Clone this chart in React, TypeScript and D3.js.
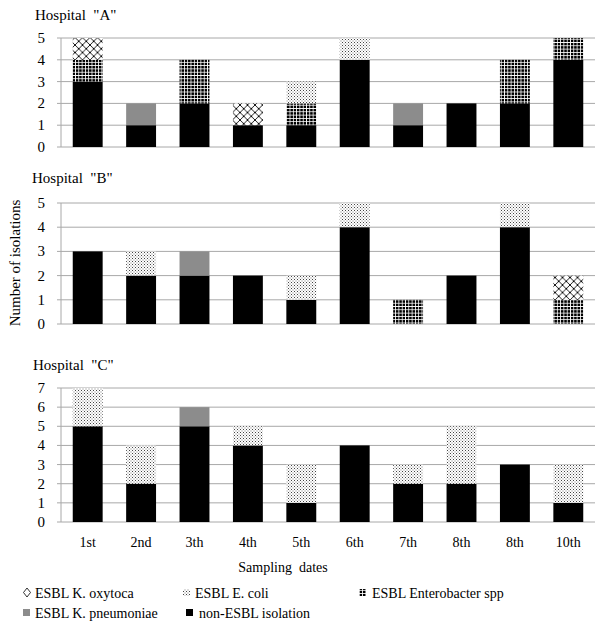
import React from "react";
import { scaleBand, scaleLinear, stack } from "d3";

const dates = ["1st", "2nd", "3th", "4th", "5th", "6th", "7th", "8th", "8th", "10th"];
const species = ["nonEsbl", "pneumoniae", "enterobacter", "coli", "oxytoca"];
const legendLabels = {
  oxytoca: "ESBL K. oxytoca",
  coli: "ESBL E. coli",
  enterobacter: "ESBL Enterobacter spp",
  pneumoniae: "ESBL K. pneumoniae",
  nonEsbl: "non-ESBL isolation",
};

// counts per sampling date, one array per species
const hospA = {
  nonEsbl: [3, 1, 2, 1, 1, 4, 1, 2, 2, 4],
  pneumoniae: [0, 1, 0, 0, 0, 0, 1, 0, 0, 0],
  enterobacter: [1, 0, 2, 0, 1, 0, 0, 0, 2, 1],
  coli: [0, 0, 0, 0, 1, 1, 0, 0, 0, 0],
  oxytoca: [1, 0, 0, 1, 0, 0, 0, 0, 0, 0],
};
const hospB = {
  nonEsbl: [3, 2, 2, 2, 1, 4, 0, 2, 4, 0],
  pneumoniae: [0, 0, 1, 0, 0, 0, 0, 0, 0, 0],
  enterobacter: [0, 0, 0, 0, 0, 0, 1, 0, 0, 1],
  coli: [0, 1, 0, 0, 1, 1, 0, 0, 1, 0],
  oxytoca: [0, 0, 0, 0, 0, 0, 0, 0, 0, 1],
};
const hospC = {
  nonEsbl: [5, 2, 5, 4, 1, 4, 2, 2, 3, 1],
  pneumoniae: [0, 0, 1, 0, 0, 0, 0, 0, 0, 0],
  enterobacter: [0, 0, 0, 0, 0, 0, 0, 0, 0, 0],
  coli: [2, 2, 0, 1, 2, 0, 1, 3, 0, 2],
  oxytoca: [0, 0, 0, 0, 0, 0, 0, 0, 0, 0],
};

const fills = {
  nonEsbl: "#000",
  pneumoniae: "#8c8c8c",
  enterobacter: "url(#pEnt)",
  coli: "url(#pColi)",
  oxytoca: "url(#pOxy)",
};

const W = 609;
const H = 631;
const font = "'Liberation Serif', 'Times New Roman', serif";

const x = scaleBand<number>()
  .domain(dates.map((_, i) => i))
  .range([61, 595])
  .paddingInner(0.44)
  .paddingOuter(0.22);

const panels = [
  { title: 'Hospital  "A"', data: hospA, max: 5, top: 38, bottom: 147, titleY: 20, titleX: 35 },
  { title: 'Hospital  "B"', data: hospB, max: 5, top: 203, bottom: 324, titleY: 183, titleX: 32 },
  { title: 'Hospital  "C"', data: hospC, max: 7, top: 388, bottom: 522, titleY: 370, titleX: 33 },
];

const Panel = ({ p }) => {
  const y = scaleLinear().domain([0, p.max]).range([p.bottom, p.top]);
  const rows = dates.map((_, i) => {
    const r: any = { i };
    species.forEach((s) => (r[s] = p.data[s][i]));
    return r;
  });
  const series = stack().keys(species)(rows);
  const ticks = y.ticks(p.max);
  return (
    <g>
      <text x={p.titleX} y={p.titleY} fontSize={15} fontFamily={font} style={{ whiteSpace: "pre" }}>
        {p.title}
      </text>
      {ticks.map((t) => (
        <g key={t}>
          <line x1={57} x2={595} y1={y(t)} y2={y(t)} stroke="#a8a8a8" strokeWidth={1} />
          <text x={45} y={y(t) + 5} textAnchor="end" fontSize={15} fontFamily={font}>
            {t}
          </text>
        </g>
      ))}
      <line x1={61} x2={61} y1={p.top} y2={p.bottom} stroke="#a8a8a8" />
      {series.map((s) =>
        s.map((d, i) =>
          d[1] > d[0] ? (
            <rect
              key={s.key + i}
              x={x(i)}
              width={x.bandwidth()}
              y={y(d[1])}
              height={y(d[0]) - y(d[1])}
              fill={fills[s.key]}
            />
          ) : null
        )
      )}
    </g>
  );
};

const legendItems = [
  { key: "oxytoca", mx: 27, tx: 35, y: 598 },
  { key: "coli", mx: 187, tx: 195, y: 598 },
  { key: "enterobacter", mx: 363, tx: 372, y: 598 },
  { key: "pneumoniae", mx: 27, tx: 35, y: 618 },
  { key: "nonEsbl", mx: 190, tx: 199, y: 618 },
];

export default function App() {
  return (
    <svg width={W} height={H} style={{ position: "absolute", left: 0, top: 0, background: "#fff" }}>
      <defs>
        <pattern id="pOxy" width={7.5} height={7.5} patternUnits="userSpaceOnUse">
          <rect width={7.5} height={7.5} fill="#fff" />
          <path d="M0,0L7.5,7.5M7.5,0L0,7.5" stroke="#000" strokeWidth={0.9} />
        </pattern>
        <pattern id="pColi" width={3} height={3} patternUnits="userSpaceOnUse">
          <rect width={3} height={3} fill="#fff" />
          <rect width={1} height={1} fill="#444" />
          <rect x={1.5} y={1.5} width={1} height={1} fill="#777" />
        </pattern>
        <pattern id="pEnt" width={3.3} height={3.3} patternUnits="userSpaceOnUse">
          <rect width={3.3} height={3.3} fill="#fff" />
          <rect width={2.5} height={2.5} fill="#000" />
        </pattern>
      </defs>
      <text
        transform="translate(20,263) rotate(-90)"
        textAnchor="middle"
        fontSize={15}
        fontFamily={font}
      >
        Number of isolations
      </text>
      {panels.map((p) => (
        <Panel key={p.title} p={p} />
      ))}
      {dates.map((d, i) => (
        <text
          key={i}
          x={x(i) + x.bandwidth() / 2}
          y={547}
          textAnchor="middle"
          fontSize={14}
          fontFamily={font}
        >
          {d}
        </text>
      ))}
      <text x={283} y={572} textAnchor="middle" fontSize={14} fontFamily={font} style={{ whiteSpace: "pre" }}>
        Sampling  dates
      </text>
      {legendItems.map((l) =>
        <g key={l.key}>
          {l.key === "oxytoca" ? (
            <path
              d={`M${l.mx},${l.y - 10}L${l.mx + 3.5},${l.y - 5.5}L${l.mx},${l.y - 1}L${l.mx - 3.5},${l.y - 5.5}Z`}
              fill="none"
              stroke="#000"
              strokeWidth={0.8}
            />
          ) : (
            <rect x={l.mx - 4} y={l.y - 9} width={7} height={7} fill={fills[l.key]} />
          )}
          <text x={l.tx} y={l.y} fontSize={14} fontFamily={font}>
            {legendLabels[l.key]}
          </text>
        </g>
      )}
    </svg>
  );
}
